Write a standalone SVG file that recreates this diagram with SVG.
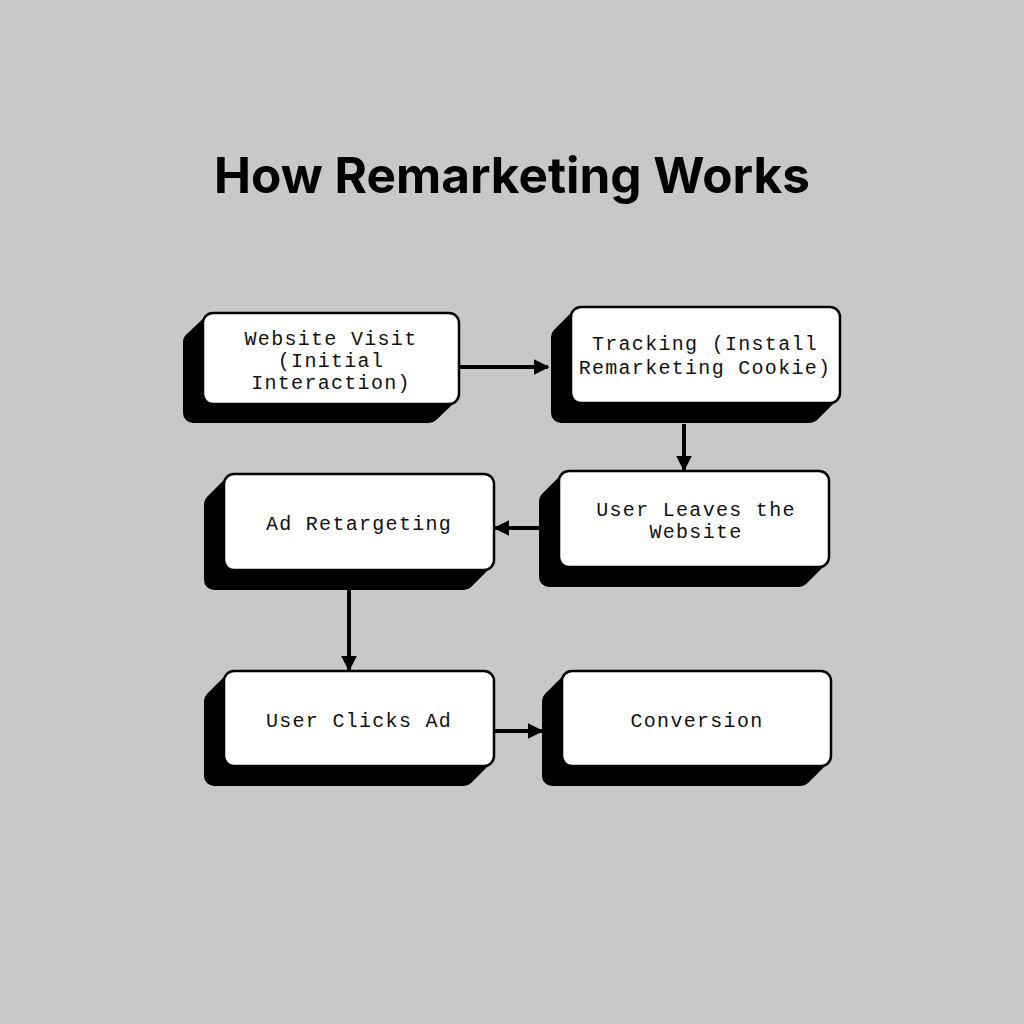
<svg xmlns="http://www.w3.org/2000/svg" width="1024" height="1024" viewBox="0 0 1024 1024">
<defs>
<style>
.shadow{fill:#000;stroke:#000;stroke-width:20;stroke-linejoin:round}
.face{fill:#fff;stroke:#000;stroke-width:2.5}
.lbl{font-family:"Liberation Mono","DejaVu Sans Mono",monospace;font-size:20px;letter-spacing:1.3px;fill:#111;text-anchor:middle}
.title{font-family:"Inter","Lato","Liberation Sans",sans-serif;font-weight:700;font-size:49.5px;fill:#000;text-anchor:middle}
.conn{stroke:#000;stroke-width:4;fill:none}
</style>
<marker id="ah" viewBox="0 0 10 10" refX="9" refY="5" markerWidth="4" markerHeight="4" orient="auto" markerUnits="strokeWidth">
<path d="M0,0 L10,5 L0,10 Z" fill="#000"/>
</marker>
</defs>
<rect width="1024" height="1024" fill="#c8c8c8"/>
<text class="title" x="512" y="193">How Remarketing Works</text>

<g id="connectors">
<line class="conn" x1="460" y1="367" x2="548" y2="367" marker-end="url(#ah)"/>
<line class="conn" x1="684" y1="424" x2="684" y2="470" marker-end="url(#ah)"/>
<line class="conn" x1="539" y1="528" x2="495" y2="528" marker-end="url(#ah)"/>
<line class="conn" x1="349" y1="590" x2="349" y2="670" marker-end="url(#ah)"/>
<line class="conn" x1="495" y1="731" x2="542" y2="731" marker-end="url(#ah)"/>
</g>

<g id="node-website-visit">
<polygon class="shadow" points="213,323 449,323 449,394 429,413 193,413 193,342"/>
<rect class="face" x="203" y="313" width="256" height="91" rx="10"/>
<text class="lbl" x="331" y="345">Website Visit</text>
<text class="lbl" x="331" y="367">(Initial</text>
<text class="lbl" x="331" y="389">Interaction)</text>
</g>

<g id="node-tracking">
<polygon class="shadow" points="581,317 830,317 830,393 810,413 561,413 561,337"/>
<rect class="face" x="571" y="307" width="269" height="96" rx="10"/>
<text class="lbl" x="705" y="350">Tracking (Install</text>
<text class="lbl" x="705" y="374">Remarketing Cookie)</text>
</g>

<g id="node-user-leaves">
<polygon class="shadow" points="569,481 819,481 819,557 799,577 549,577 549,501"/>
<rect class="face" x="559" y="471" width="270" height="96" rx="10"/>
<text class="lbl" x="696" y="516">User Leaves the</text>
<text class="lbl" x="696" y="538">Website</text>
</g>

<g id="node-ad-retargeting">
<polygon class="shadow" points="234,484 484,484 484,560 464,580 214,580 214,504"/>
<rect class="face" x="224" y="474" width="270" height="96" rx="10"/>
<text class="lbl" x="359" y="530">Ad Retargeting</text>
</g>

<g id="node-user-clicks">
<polygon class="shadow" points="234,681 484,681 484,756 464,776 214,776 214,701"/>
<rect class="face" x="224" y="671" width="270" height="95" rx="10"/>
<text class="lbl" x="359" y="727">User Clicks Ad</text>
</g>

<g id="node-conversion">
<polygon class="shadow" points="572,681 821,681 821,756 801,776 552,776 552,701"/>
<rect class="face" x="562" y="671" width="269" height="95" rx="10"/>
<text class="lbl" x="697" y="727">Conversion</text>
</g>
</svg>
